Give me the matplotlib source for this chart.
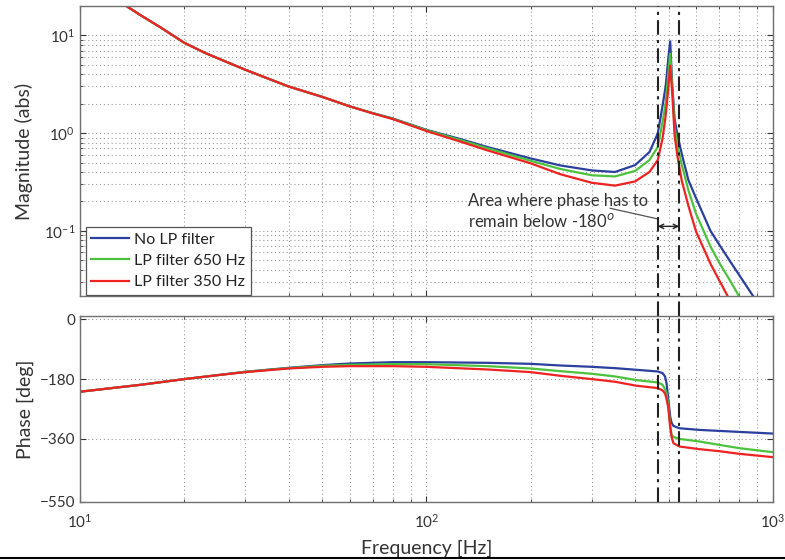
import matplotlib
matplotlib.use("Agg")
import matplotlib.pyplot as plt
from matplotlib.ticker import LogLocator, FixedLocator, NullFormatter
import matplotlib.transforms as mtransforms
import numpy as np

plt.rcParams['font.family'] = ['Lato', 'DejaVu Sans']

# ---- magnitude data (abs) ----
freq_mag = [10, 13.6, 15, 17, 20, 23, 26, 30, 35, 40, 50, 60, 70, 80, 100, 125, 150, 200,
            243, 300, 350, 400, 440, 465, 480, 490, 498, 505, 512, 520, 530, 545, 570,
            600, 660, 700, 760, 800, 880, 1000]
mag_none = [40, 20, 16.0, 12.2, 8.4, 6.6, 5.5, 4.45, 3.6, 3.0, 2.35, 1.88, 1.6, 1.41, 1.08,
            0.87, 0.72, 0.55, 0.467, 0.415, 0.40, 0.47, 0.64, 0.99, 1.9, 3.0, 5.5, 8.7,
            3.1, 1.4, 0.95, 0.62, 0.33, 0.215, 0.10, 0.072, 0.046, 0.035, 0.021, 0.011]
mag_650 = [40, 20, 16.0, 12.2, 8.4, 6.6, 5.5, 4.45, 3.6, 3.0, 2.35, 1.88, 1.6, 1.40, 1.07,
           0.85, 0.70, 0.52, 0.43, 0.37, 0.36, 0.41, 0.53, 0.72, 1.3, 2.0, 3.8, 6.5,
           2.9, 1.15, 0.75, 0.48, 0.26, 0.149, 0.069, 0.047, 0.029, 0.021, 0.013, 0.007]
mag_350 = [40, 20, 16.0, 12.2, 8.4, 6.6, 5.5, 4.45, 3.6, 3.0, 2.35, 1.88, 1.59, 1.39, 1.05,
           0.82, 0.665, 0.49, 0.38, 0.31, 0.29, 0.32, 0.40, 0.53, 0.88, 1.5, 2.7, 4.9,
           2.6, 0.95, 0.58, 0.33, 0.18, 0.098, 0.046, 0.031, 0.018, 0.013, 0.008, 0.004]

# ---- phase data (deg) ----
freq_ph = [10, 15, 20, 25, 30, 40, 50, 60, 80, 100, 150, 200, 243, 300, 350, 404, 465, 480,
           488, 493, 499, 505, 510, 516, 537, 614, 700, 800, 1000]
ph_none = [-218, -197, -180, -168, -158, -146, -138, -133, -129, -129, -131, -134, -139,
           -143, -147, -152, -157, -162, -172, -193, -243, -293, -312, -321, -328, -333,
           -336, -339, -344]
ph_650 = [-218, -197, -180, -168, -158, -147, -140, -137, -135, -135, -141, -148, -156,
          -164, -172, -183, -190, -197, -210, -223, -262, -318, -348, -354, -360, -368,
          -378, -388, -400]
ph_350 = [-218, -197, -180, -168, -159, -148, -143, -141, -141, -143, -151, -159, -170,
          -180, -188, -200, -207, -214, -223, -240, -268, -325, -355, -373, -383, -391,
          -397, -405, -415]

labels = ['No LP filter', 'LP filter 650 Hz', 'LP filter 350 Hz']
colors = ['#2b3f9e', '#4cc23c', '#ee2222']

# frequency band where the phase has to stay below -180 deg
band = [465, 536]

grid_kw = dict(color='#9a9a9a', linestyle=(0, (1, 2.5)), linewidth=0.8)
spine_color = '#707070'

fig = plt.figure(figsize=(7.85, 5.60), dpi=100)
ax1 = fig.add_axes([0.1019, 0.4714, 0.8828, 0.5179])
ax2 = fig.add_axes([0.1019, 0.1036, 0.8828, 0.3321])

for vals, lab, col in zip([mag_none, mag_650, mag_350], labels, colors):
    ax1.plot(freq_mag, vals, color=col, lw=1.6, label=lab)
for vals, col in zip([ph_none, ph_650, ph_350], colors):
    ax2.plot(freq_ph, vals, color=col, lw=1.6)

for ax in (ax1, ax2):
    ax.set_xscale('log')
    ax.set_xlim(10, 1000)
    ax.grid(True, which='major', axis='both', **grid_kw)
    ax.grid(True, which='minor', axis='x', **grid_kw)
    ax.tick_params(which='both', direction='in', top=True, right=True,
                   colors='#333333', labelsize=11, length=4)
    ax.tick_params(which='minor', length=2.5)
    for s in ax.spines.values():
        s.set_color(spine_color)
        s.set_linewidth(1.0)
    ax.set_axisbelow(True)

ax1.set_yscale('log')
ax1.set_ylim(0.0215, 20)
ax1.yaxis.set_major_locator(LogLocator(base=10, numticks=10))
ax1.yaxis.set_minor_locator(LogLocator(base=10, subs=np.arange(2, 10), numticks=10))
ax1.yaxis.set_minor_formatter(NullFormatter())
ax1.grid(True, which='minor', axis='y', **grid_kw)
ax1.tick_params(axis='x', labelbottom=False)
ax1.set_ylabel('Magnitude (abs)', fontsize=14, color='#333333', labelpad=8)

ax2.set_ylim(-550, 10)
ax2.yaxis.set_major_locator(FixedLocator([0, -180, -360, -550]))
ax2.set_ylabel('Phase [deg]', fontsize=14, color='#333333', labelpad=4)
ax2.set_xlabel('Frequency [Hz]', fontsize=14, color='#333333', labelpad=6)
ax2.tick_params(axis='x', pad=8)

# dash-dot band limits spanning both panels and the gap between them
for f in band:
    for ax, y0 in ((ax1, -0.07), (ax2, 0.0)):
        tr = mtransforms.blended_transform_factory(ax.transData, ax.transAxes)
        ax.plot([f, f], [y0, 1.0], transform=tr, color='#222222', lw=1.5,
                dashes=(7, 2.5, 1.5, 2.5), clip_on=False, zorder=3)

# annotation
ax1.annotate('', xy=(band[0], 0.111), xytext=(band[1], 0.111),
             arrowprops=dict(arrowstyle='<->', color='#222222', lw=1.0,
                             shrinkA=0, shrinkB=0, mutation_scale=8))
ax1.plot([339, 462], [0.17, 0.133], color='#555555', lw=0.9)
ax1.text(132, 0.245, 'Area where phase has to\nremain below -180$^o$', fontsize=12,
         color='#333333', va='top', ha='left', linespacing=1.2)

leg = ax1.legend(loc='lower left', bbox_to_anchor=(0.008, 0.004), borderaxespad=0,
                 fontsize=11.5, frameon=True, fancybox=False, framealpha=1,
                 edgecolor='#555555', handlelength=2.4, handletextpad=0.3,
                 labelspacing=0.45, borderpad=0.35)
leg.get_frame().set_linewidth(0.9)
for t in leg.get_texts():
    t.set_color('#222222')

# bottom rule across the figure
fig.add_artist(plt.Line2D([0, 1], [0.004, 0.004], transform=fig.transFigure,
                          color='black', lw=1.5))

fig.savefig('out.png', dpi=100)
